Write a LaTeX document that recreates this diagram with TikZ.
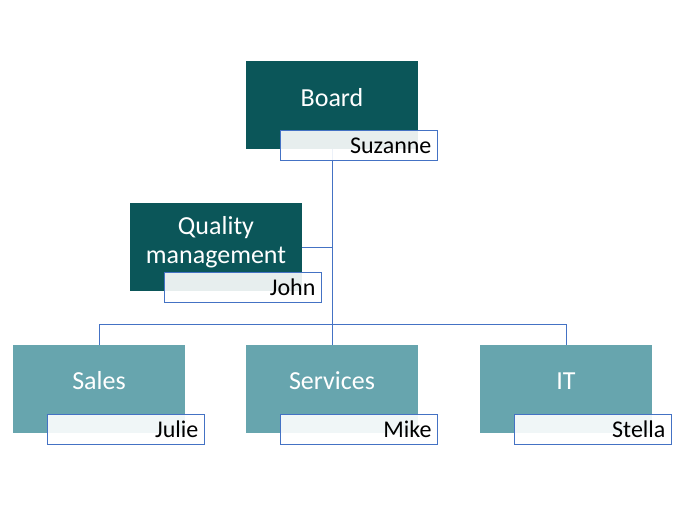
\documentclass[tikz,border=0pt]{standalone}
\usepackage{fontspec}
\setmainfont{Carlito}
\usetikzlibrary{backgrounds}
\definecolor{darkteal}{HTML}{0B5659}
\definecolor{lightteal}{HTML}{67A5AE}
\definecolor{lineblue}{HTML}{4472C4}
\tikzset{
  boxdark/.style={rectangle, fill=darkteal, minimum width=172pt, minimum height=88pt, inner sep=0pt},
  boxlight/.style={rectangle, fill=lightteal, minimum width=172pt, minimum height=88pt, inner sep=0pt},
  boxtext/.style={text=white, font=\fontsize{26}{29}\selectfont, align=center, inner sep=0pt},
  namelabel/.style={rectangle, draw=lineblue, line width=0.9pt, fill=white, fill opacity=0.9, text opacity=1,
    minimum width=157pt, minimum height=30pt, text width=145pt, align=right, inner sep=0pt,
    font=\fontsize{24}{26}\selectfont, anchor=north west},
  conn/.style={draw=lineblue, line width=1pt}
}
\begin{document}
\begin{tikzpicture}[x=1pt, y=-1pt]
\useasboundingbox (0,0) rectangle (680,520);
% main boxes
\node[boxdark] (board) at (332,105) {};
\node[boxdark] (quality) at (216,247) {};
\node[boxlight] (sales) at (99,389) {};
\node[boxlight] (services) at (332,389) {};
\node[boxlight] (it) at (566,389) {};
% box texts
\node[boxtext] (boardt) at (332,98) {Board};
\node[boxtext] (qualityt) at (216,242) {Quality\\management};
\node[boxtext] (salest) at (99,381) {Sales};
\node[boxtext] (servicest) at (332,381) {Services};
\node[boxtext] (itt) at (566,381) {IT};
% connectors
\coordinate (bus) at (332,324);
\begin{scope}[on background layer]
\draw[conn] (board.south) -- (services.north);
\draw[conn] (quality.east) -- (quality.east -| board.south);
\draw[conn] (sales.north) -- (sales.north |- bus) -- (it.north |- bus) -- (it.north);
\end{scope}
% name labels
\node[namelabel] (suzanne) at (280,130) {Suzanne};
\node[namelabel] (john) at (164,272) {John};
\node[namelabel] (julie) at (47,414) {Julie};
\node[namelabel] (mike) at (280,414) {Mike};
\node[namelabel] (stella) at (514,414) {Stella};
\end{tikzpicture}
\end{document}
